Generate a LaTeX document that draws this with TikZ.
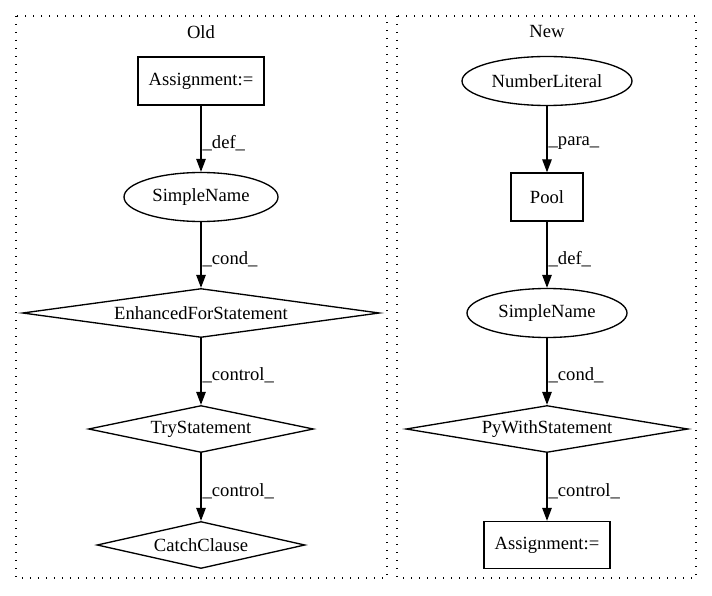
\documentclass[tikz,border=0pt]{standalone}
\usepackage{fontspec}
\setmainfont{Liberation Serif}
\usepackage{tikz}
\usetikzlibrary{arrows.meta,shapes.geometric}
\newcommand{\gvfont}{\fontsize{18.6}{22}\selectfont}

\begin{document}
\begin{tikzpicture}[x=1pt,y=-1pt,>={Triangle[length=13pt,width=9.5pt]}]
\tikzstyle{every node}=[font=\gvfont,inner sep=0pt,line width=1.33pt]
\tikzstyle{box}=[draw,rectangle,minimum height=48pt]
\tikzstyle{oval}=[draw,ellipse,minimum height=49pt]
\tikzstyle{stmt}=[draw,diamond,shape aspect=6,minimum height=47pt]
\tikzstyle{lbl}=[anchor=west,pos=0.56,xshift=1pt]
\tikzstyle{cluster}=[line width=1.33pt,dash pattern=on 1.3pt off 6.7pt]
\useasboundingbox (0,0) rectangle (712,596);
% clusters
\draw[cluster] (16,16) rectangle (387,578);
\draw[cluster] (397,16) rectangle (696,578);
\node (old) at (201,32) {Old};
\node (new) at (547,32) {New};
% old
\node[box,minimum width=126pt]  (oa) at (201,81)  {Assignment:=};
\node[oval,minimum width=154pt] (os) at (201,197) {SimpleName};
\node[stmt,minimum width=357pt,minimum height=49pt] (of) at (201,313) {EnhancedForStatement};
\node[stmt,minimum width=225pt] (ot) at (201,429) {TryStatement};
\node[stmt,minimum width=208pt] (oc) at (201,545) {CatchClause};
% new
\node[oval,minimum width=170pt] (nn) at (547,81)  {NumberLiteral};
\node[box,minimum width=72pt]   (np) at (547,197) {Pool};
\node[oval,minimum width=160pt] (ns) at (547,313) {SimpleName};
\node[stmt,minimum width=282pt] (nw) at (547,429) {PyWithStatement};
\node[box,minimum width=126pt,minimum height=47pt] (na) at (547,545) {Assignment:=};
\path[->,draw,line width=1.33pt]
(oa) edge node[lbl] {\_def\_} (os)
(os) edge node[lbl] {\_cond\_} (of)
(of) edge node[lbl] {\_control\_} (ot)
(ot) edge node[lbl] {\_control\_} (oc)
(nn) edge node[lbl] {\_para\_} (np)
(np) edge node[lbl] {\_def\_} (ns)
(ns) edge node[lbl] {\_cond\_} (nw)
(nw) edge node[lbl] {\_control\_} (na)
;
\end{tikzpicture}
\end{document}
